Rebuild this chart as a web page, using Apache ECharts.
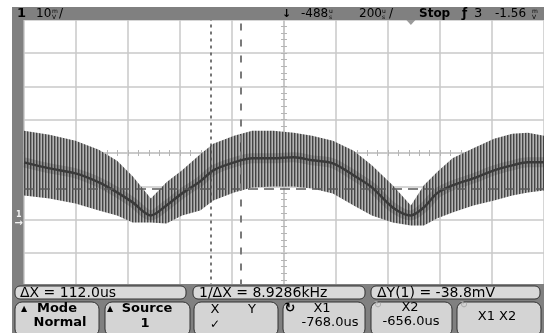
<!DOCTYPE html>
<html><head><meta charset="utf-8">
<script src="https://cdn.jsdelivr.net/npm/echarts@6/dist/echarts.min.js"></script>
<style>html,body{margin:0;padding:0;background:#fff}#c{width:544px;height:333px}</style>
</head><body><div id="c"></div>
<script>
// Scope settings
const timeCenterUs = -488;   // delay
const timePerDivUs = 200;    // 200 us/div
const cursorX1Us = -768;
const cursorX2Us = -656;
const triggerTimeUs = 0;
const levelMv = 9.4;

// Waveform (time in us, voltage in mV)
const timeUs = [-1488,-1390,-1290,-1200,-1130,-1070,-1000,-940,-880,-810,-760,-680,-610,-530,-450,-380,-300,-220,-150,-70,0,50,100,160,240,320,390,450,512];
const meanMv = [17.2,15.4,13.9,11.2,8.2,5.2,1.3,4.3,7.9,11.5,14.8,17.2,18.4,18.4,18.7,17.8,16.9,13.3,9.7,3.7,1.3,3.7,7.9,10.3,12.4,14.8,16.3,17.2,17.2];
const highMv = [26.7,25.5,23.7,21.0,17.7,13.0,6.4,11.2,14.8,19.6,22.8,25.2,26.7,26.7,26.1,25.2,23.7,20.7,16.3,10.3,4.3,10.3,14.2,18.4,21.4,24.3,25.8,26.1,25.2];
const lowMv  = [7.3,6.4,4.9,2.8,1.3,-0.8,-0.8,-1.1,1.3,2.8,5.8,8.2,9.7,10.0,10.0,9.4,7.9,4.3,1.3,-0.8,-1.7,-1.7,0.4,2.2,4.3,5.8,7.3,8.2,8.8];

const div = t => (t - timeCenterUs) / timePerDivUs + 5;
const bandRows = timeUs.map((t,i)=>[div(t), lowMv[i], highMv[i]]);
const meanData = timeUs.map((t,i)=>[div(t), meanMv[i]]);

function stripes(cols){
  const c=document.createElement('canvas'); c.width=cols.length; c.height=4;
  const g=c.getContext('2d');
  cols.forEach((col,i)=>{g.fillStyle=col; g.fillRect(i,0,1,4);});
  return c;
}
const bandPattern = {image: stripes(['#444444','#858585','#b4b4b4']), repeat:'repeat'};

const gridCol = '#c9c9c9';
const F = 'DejaVu Sans, sans-serif';
const gray = '#808080';
function T(text,x,y,o){o=o||{};return {type:'text',z:101,x:x,y:y,style:{text:text,font:(o.bold?'bold ':'')+(o.size||12)+'px '+F,fill:o.fill||'#000',align:o.align||'left',verticalAlign:'middle'}};}
function U(a,b,x,y){return {type:'text',z:101,x:x,y:y,style:{text:a+'\n'+b,font:'6px '+F,lineHeight:6,fill:'#000',align:'left',verticalAlign:'middle'}};}
function R(x,y,w,h,fill,r){return {type:'rect',z:100,shape:{x:x,y:y,width:w,height:h,r:r||0},style:{fill:fill,stroke:r?'#303030':null,lineWidth:1}};}

const centerAxisX = (inside)=>({type:'value',min:0,max:10,interval:1,position:'bottom',offset:-133.5,
  axisLine:{show:true,onZero:false,lineStyle:{color:gridCol,width:1.5}},
  axisTick:{show:true,inside:inside,length:3,lineStyle:{color:'#b5b5b5'}},
  minorTick:{show:true,splitNumber:5,length:3,lineStyle:{color:'#b5b5b5'}},
  axisLabel:{show:false},splitLine:{show:false}});
const centerAxisY = (inside)=>({type:'value',min:-20,max:60,interval:10,position:'left',offset:-260,
  axisLine:{show:true,onZero:false,lineStyle:{color:gridCol,width:1.5}},
  axisTick:{show:true,inside:inside,length:3,lineStyle:{color:'#b5b5b5'}},
  minorTick:{show:true,splitNumber:5,length:3,lineStyle:{color:'#b5b5b5'}},
  axisLabel:{show:false},splitLine:{show:false}});

function renderBand(params, api){
  if (params.dataIndex !== 0) return null;
  const n = params.dataInsideLength;
  const top=[], bot=[];
  for (let i=0;i<n;i++){
    const x=api.value(0,i);
    top.push(api.coord([x, api.value(2,i)]));
    bot.push(api.coord([x, api.value(1,i)]));
  }
  const pts = top.concat(bot.reverse());
  return {type:'polygon',shape:{points:pts},style:{fill:bandPattern}};
}

const chart = echarts.init(document.getElementById('c'),null,{renderer:'canvas'});
chart.setOption({
  animation:false,
  backgroundColor:'#fff',
  grid:{left:24,top:19.5,width:520,height:267,containLabel:false},
  xAxis:[
    {type:'value',min:0,max:10,interval:1,axisLine:{show:false},axisTick:{show:false},axisLabel:{show:false},
     splitLine:{show:true,lineStyle:{color:gridCol,width:1.5}}},
    centerAxisX(true), centerAxisX(false)
  ],
  yAxis:[
    {type:'value',min:-20,max:60,interval:10,axisLine:{show:false},axisTick:{show:false},axisLabel:{show:false},
     splitLine:{show:true,lineStyle:{color:gridCol,width:1.5}}},
    centerAxisY(true), centerAxisY(false),
    {type:'value',min:-20,max:60,interval:10,position:'left',offset:0,z:200,axisLine:{show:false,onZero:false},axisTick:{show:false},splitLine:{show:false},
     axisLabel:{show:true,margin:1,formatter:v=>v===0?'{n|1}\n{a|→}':'',
       rich:{n:{fontSize:8,lineHeight:7,color:'#f2f2f2',fontFamily:F,fontWeight:'bold',align:'center'},
             a:{fontSize:10,lineHeight:9,color:'#f2f2f2',fontFamily:F,fontWeight:'bold'}}}}
  ],
  series:[
    {type:'line',name:'level',data:[],symbol:'none',z:1,
     markLine:{silent:true,symbol:'none',label:{show:false},
       data:[{yAxis:levelMv,lineStyle:{type:[10,6],color:'#5a5a5a',width:1.5}}]}},
    {type:'custom',name:'band',data:bandRows,z:2,renderItem:renderBand,encode:{x:0,y:[1,2]},clip:true},
    {type:'line',name:'core',data:meanData,symbol:'none',z:3,smooth:0.3,
     lineStyle:{width:10,color:'rgba(40,40,40,0.22)'}},
    {type:'line',name:'mean',data:meanData,symbol:'none',z:4,smooth:0.3,
     lineStyle:{width:2.5,color:'#3a3a3a'},
     markLine:{silent:true,symbol:'none',label:{show:false},
       data:[{xAxis:div(cursorX1Us),lineStyle:{type:[3,4],color:'#4a4a4a',width:1.5}},
             {xAxis:div(cursorX2Us),lineStyle:{type:[7,9],color:'#7a7a7a',width:2}}]},
     markPoint:{silent:true,label:{show:false},
       data:[{coord:[div(triggerTimeUs),60],symbol:'triangle',symbolRotate:180,symbolSize:[9,5],symbolOffset:[0,3],itemStyle:{color:'#9a9a9a'}}]}}
  ],
  graphic:[
    R(12,7,532,13,gray), R(12,7,11.5,280,gray), R(12,284,532,49,gray),
    T('1',17,14,{bold:true,size:13}), T('10',36,14), U('m','V',52,14), T('/',59,14),
    T('↓',282,14,{bold:true,size:11}),
    T('-488',301,14), U('u','s',329,14),
    T('200',359,14), U('u','s',382,14), T('/',389,14),
    T('Stop',419,14,{bold:true}),
    T('ƒ',462,14,{bold:true}), T('3',474,14,{size:13}),
    T('-1.56',495,14), U('m','V',532,14),
    R(15,286,171,13,'#d9d9d9',5), R(193,286,172,13,'#d9d9d9',5), R(371,286,169,13,'#d9d9d9',5),
    T('ΔX = 112.0us',20,293,{size:14}), T('1/ΔX = 8.9286kHz',199,293,{size:14}), T('ΔY(1) = -38.8mV',377,293,{size:14}),
    R(15,302,84,34,'#d4d4d4',7), R(105,302,85,34,'#d4d4d4',7), R(194,302,84,34,'#d4d4d4',7),
    R(283,302,82,34,'#d4d4d4',7), R(371,302,81,34,'#d4d4d4',7), R(457,302,84,34,'#d4d4d4',7),
    T('▲',21,309,{size:8}), T('Mode',57,309,{bold:true,align:'center',size:13}), T('Normal',60,323,{bold:true,align:'center',size:13}),
    T('▲',107,309,{size:8}), T('Source',147,309,{bold:true,align:'center',size:13}), T('1',145,324,{bold:true,align:'center',size:13}),
    T('X',215,310,{align:'center',size:13}), T('Y',252,310,{align:'center',size:13}), T('✓',215,325,{align:'center'}),
    T('↻',290,309,{bold:true,size:13,align:'center'}), T('X1',322,309,{align:'center',size:13}), T('-768.0us',330,323,{align:'center',size:13}),
    T('↻',378,305,{size:10,align:'center',fill:'#aaaaaa'}), T('X2',410,308,{align:'center',size:13}), T('-656.0us',411,322,{align:'center',size:13}),
    T('↻',464,305,{size:10,align:'center',fill:'#aaaaaa'}), T('X1 X2',497,317,{align:'center',size:13})
  ]
});
</script></body></html>
